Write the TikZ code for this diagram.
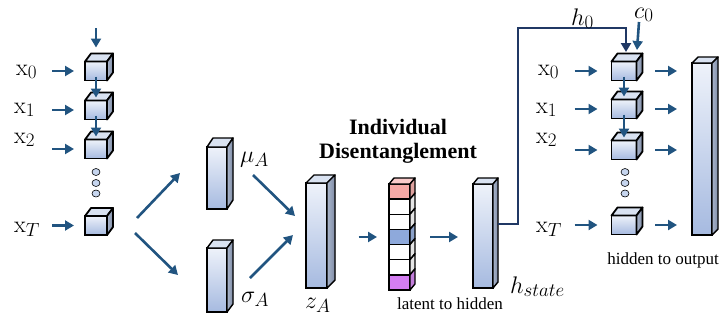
\RequirePackage{fix-cm}
\documentclass[tikz,border=0pt]{standalone}
\usepackage[no-math]{fontspec}
\setmainfont{Liberation Serif}
\usetikzlibrary{arrows.meta,shapes.geometric}
\DeclareMathSizes{24}{24}{19}{14}
\definecolor{arrowblue}{HTML}{215480}
\definecolor{navy}{HTML}{203864}
\definecolor{frontTop}{HTML}{EEF2FA}
\definecolor{frontBot}{HTML}{A6BAE0}
\definecolor{topc}{HTML}{D9E2F1}
\definecolor{sideL}{HTML}{A9B5CB}
\definecolor{sideR}{HTML}{7F8CA6}
\definecolor{pinkc}{HTML}{F6A9A6}
\definecolor{bluec}{HTML}{8EA9DB}
\definecolor{violetc}{HTML}{D47EF2}
\definecolor{dotc}{HTML}{C6D5EE}
\newlength{\facelw}\setlength{\facelw}{1.4pt}
\newcommand{\topface}[4]{%
  \filldraw[draw=black, line width=\facelw, line join=round, fill=#4]
    (#1.north west) -- ++(#2,-#3) -- ([shift={(#2,-#3)}]#1.north east) -- (#1.north east) -- cycle;}
\newcommand{\sideface}[4]{%
  \filldraw[draw=black, line width=\facelw, line join=round, fill=#4]
    (#1.north east) -- ([shift={(#2,-#3)}]#1.north east) -- ([shift={(#2,-#3)}]#1.south east) -- (#1.south east) -- cycle;}
\newcommand{\sidefaceshade}[3]{%
  \filldraw[draw=black, line width=\facelw, line join=round, left color=sideL, right color=sideR]
    (#1.north east) -- ([shift={(#2,-#3)}]#1.north east) -- ([shift={(#2,-#3)}]#1.south east) -- (#1.south east) -- cycle;}
\newcommand{\solidfaces}[3]{\topface{#1}{#2}{#3}{topc}\sidefaceshade{#1}{#2}{#3}}
\tikzset{
  arr/.style={draw=arrowblue, line width=2.6pt, -{Triangle[length=9pt,width=10pt]}},
  hl/.style={draw=navy, line width=2.2pt, line join=miter, -{Triangle[length=9pt,width=10pt]}},
  front/.style={draw=black, line width=1.4pt, inner sep=0pt, outer sep=0pt, top color=frontTop, bottom color=frontBot},
  cubeL/.style={front, line width=1.8pt, minimum width=22pt, minimum height=19pt},
  cubeR/.style={front, line width=1.8pt, minimum width=25pt, minimum height=19pt},
  cell/.style={draw=black, line width=1.4pt, inner sep=0pt, outer sep=0pt, minimum width=21pt, minimum height=15.14pt, fill=white},
  dot/.style={ellipse, draw=black, line width=0.6pt, fill=dotc, inner sep=0pt, minimum width=8pt, minimum height=7pt},
  lab/.style={inner sep=0pt, anchor=base west, font=\fontsize{24}{28}\selectfont},
  bold/.style={inner sep=0pt, font=\fontsize{22}{26}\selectfont\bfseries},
  small/.style={inner sep=0pt, font=\fontsize{17}{20}\selectfont},
}
\begin{document}
\begin{tikzpicture}[x=1pt,y=-1pt]
\useasboundingbox (0,0) rectangle (719,324);
% ---------- left encoder ----------
\node[cubeL] (L0) at (96,71) {};
\node[cubeL] (L1) at (96,110) {};
\node[cubeL] (L2) at (96,149) {};
\node[cubeL] (LT) at (96,225.5) {};
\setlength{\facelw}{1.8pt}
\foreach \n in {L0,L1,L2,LT} {\solidfaces{\n}{6}{8}}
\setlength{\facelw}{1.4pt}
\node[dot] (dl1) at (96,172) {};
\node[dot] (dl2) at (96,183) {};
\node[dot] (dl3) at (96,193.5) {};
\node[lab] (lx0) at (16,75) {$\mathrm{x}_0$};
\node[lab] (lx1) at (14,113) {$\mathrm{x}_1$};
\node[lab] (lx2) at (14,143) {$\mathrm{x}_2$};
\node[lab] (lxT) at (14,232) {$\mathrm{x}_T$};
\foreach \n in {L0,L1,L2,LT} {\draw[arr] ([xshift=-33pt]\n.west) -- ([xshift=-11pt]\n.west);}
\coordinate (inL) at (96,28);
\draw[arr] (inL) -- ([yshift=14pt]L0.north);
\draw[arr] ([yshift=4pt]L0.south) -- ([yshift=3pt]L1.north);
\draw[arr] ([yshift=4pt]L1.south) -- ([yshift=3pt]L2.north);
% ---------- branches ----------
\coordinate (b1s) at (137,218); \coordinate (b1e) at (180,173);
\coordinate (b2s) at (135,233); \coordinate (b2e) at (178,275);
\draw[arr] (b1s) -- (b1e);
\draw[arr] (b2s) -- (b2e);
% ---------- mu, sigma ----------
\node[front, minimum width=20pt, minimum height=62pt] (mu) at (217,178) {};
\node[front, minimum width=20pt, minimum height=64pt] (sg) at (217,280) {};
\solidfaces{mu}{6}{9}
\solidfaces{sg}{6}{8}
\node[lab] (mul) at (240,162) {$\mu_A$};
\node[lab] (sgl) at (241,302) {$\sigma_A$};
% ---------- z ----------
\node[front, minimum width=21pt, minimum height=105pt] (z) at (316.5,235.5) {};
\solidfaces{z}{8}{8}
\node[lab] (zl) at (305,308) {$z_A$};
\coordinate (m1s) at (253,175); \coordinate (m1e) at (295,216);
\coordinate (s1s) at (250,278); \coordinate (s1e) at (293,235);
\draw[arr] (m1s) -- (m1e);
\draw[arr] (s1s) -- (s1e);
% ---------- title ----------
\node[bold] (t1) at (398,127) {Individual};
\node[bold] (t2) at (398,153) {Disentanglement};
% ---------- latent ----------
\foreach \i/\c in {1/pinkc,2/white,3/white,4/bluec,5/white,6/white,7/violetc} {
  \node[cell, fill=\c] (c\i) at (399.5,{184+7.57+15.14*(\i-1)}) {};
}
\topface{c1}{5}{6}{pinkc!60}
\foreach \i/\c in {1/pinkc!80!gray,2/gray!20,3/gray!20,4/bluec!80!gray,5/gray!20,6/gray!20,7/violetc!80!gray} {
  \sideface{c\i}{5}{6}{\c}
}
\draw[arr] ([xshift=-41pt]c4.center) -- ([xshift=-12pt]c4.west);
\node[small] (lth) at (450,304) {latent to hidden};
% ---------- h ----------
\node[front, minimum width=20pt, minimum height=104pt] (hb) at (483,236) {};
\solidfaces{hb}{5}{6}
\draw[arr] ([xshift=20pt]c4.east) -- ([xshift=-15pt]hb.west |- c4.east);
\node[lab] (hsl) at (510,293) {$h_{state}$};
% ---------- right decoder ----------
\node[cubeR] (R0) at (624,71) {};
\node[cubeR] (R1) at (624,109) {};
\node[cubeR] (R2) at (624,150) {};
\node[cubeR] (RT) at (624,225) {};
\setlength{\facelw}{1.8pt}
\foreach \n in {R0,R1,R2,RT} {\solidfaces{\n}{6}{8}}
\setlength{\facelw}{1.4pt}
\node[dot] (dr1) at (625,172) {};
\node[dot] (dr2) at (625,183) {};
\node[dot] (dr3) at (625,193.5) {};
\node[lab] (rx0) at (538,75) {$\mathrm{x}_0$};
\node[lab] (rx1) at (536,113) {$\mathrm{x}_1$};
\node[lab] (rx2) at (536,143) {$\mathrm{x}_2$};
\node[lab] (rxT) at (536,232) {$\mathrm{x}_T$};
\node[front, minimum width=20pt, minimum height=172pt] (ob) at (702,149) {};
\solidfaces{ob}{6}{6}
\foreach \n in {R0,R1,R2,RT} {
  \draw[arr] ([xshift=-37pt]\n.west) -- ([xshift=-14pt]\n.west);
  \draw[arr] ([xshift=18.5pt]\n.east) -- ([xshift=-15pt]ob.west |- \n.east);
}
\draw[arr] ([yshift=4pt]R0.south) -- ([yshift=3pt]R1.north);
\draw[arr] ([yshift=4pt]R1.south) -- ([yshift=3pt]R2.north);
\node[small] (hto) at (663,260) {hidden to output};
% ---------- h0 / c0 ----------
\draw[hl] ([shift={(5,-12)}]hb.east) -- ++(20,0) -- ++(0,-196) -| ([xshift=2pt,yshift=9.5pt]R0.north);
\node[lab] (h0l) at (571,25) {$h_0$};
\node[lab] (c0l) at (634,18) {$c_0$};
\coordinate (c0s) at (639,22);
\draw[arr] (c0s) -- ([xshift=13pt,yshift=11.5pt]R0.north);
\end{tikzpicture}
\end{document}
